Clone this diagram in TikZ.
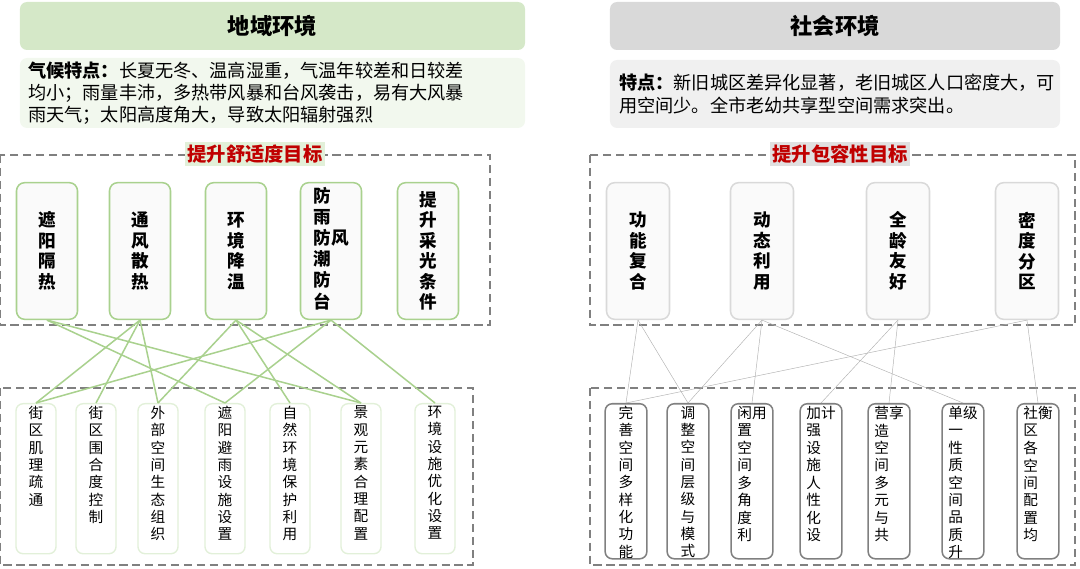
\documentclass[tikz,border=0pt]{standalone}
\usepackage{fontspec}
\setmainfont{Noto Sans CJK SC}
\definecolor{gline}{HTML}{A9D18E}
\definecolor{gpale}{HTML}{E2F0D9}
\definecolor{ghead}{HTML}{D5E8C8}
\definecolor{grayhead}{HTML}{D9D9D9}
\definecolor{dash}{HTML}{808080}
\definecolor{redt}{HTML}{C00000}
\tikzset{
  dashbox/.style={draw=dash,line width=2pt,dash pattern=on 7pt off 4pt},
  topL/.style={draw=gline,line width=1.3pt,fill=black!2,rounded corners=7pt,minimum width=1.83cm,minimum height=4.1cm,inner sep=0pt,font=\fontsize{15}{17.5}\selectfont\bfseries},
  topR/.style={draw=grayhead,line width=1.3pt,fill=black!2,rounded corners=7pt,minimum width=1.89cm,minimum height=4.1cm,inner sep=0pt,font=\fontsize{15}{17.5}\selectfont\bfseries},
  botL/.style={draw=gpale,line width=1.2pt,rounded corners=6pt,minimum width=1.2cm,inner sep=0pt,anchor=north,font=\fontsize{12.5}{14.8}\selectfont},
  botR/.style={draw=dash,line width=1.3pt,rounded corners=6pt,minimum width=1.2cm,inner sep=0pt,anchor=north,font=\fontsize{12.5}{14.8}\selectfont},
  gl/.style={draw=gline,line width=1.3pt},
  rl/.style={draw=black!30,line width=0.4pt},
}
\newcommand\colL[1]{\parbox[c][4.5cm][t]{1.1cm}{\centering\vspace{2pt}#1}}
\newcommand\colR[1]{\parbox[c][4.65cm][t]{1.25cm}{\centering\vspace{2pt}#1}}
\begin{document}
\begin{tikzpicture}[x=0.03cm,y=-0.03cm]
\useasboundingbox (0,0) rectangle (1080,569);
% headers
\node[fill=ghead,rounded corners=6pt,minimum width=15.15cm,minimum height=1.44cm,font=\fontsize{19}{22}\selectfont\bfseries] (hL) at (272.5,26) {地域环境};
\node[fill=grayhead,rounded corners=6pt,minimum width=13.5cm,minimum height=1.44cm,font=\fontsize{19}{22}\selectfont\bfseries] (hR) at (835,26) {社会环境};
% description boxes
\node[fill=gpale!45,rounded corners=6pt,minimum width=15.15cm,minimum height=2.1cm] (dL) at (272.5,93) {};
\node[anchor=west,align=left,font=\fontsize{15.5}{19}\selectfont,inner sep=0pt] (dLt) at (28,93) {\textbf{气候特点：}长夏无冬、温高湿重，气温年较差和日较差\\均小；雨量丰沛，多热带风暴和台风袭击，易有大风暴\\雨天气；太阳高度角大，导致太阳辐射强烈};
\node[fill=black!6,rounded corners=6pt,minimum width=13.5cm,minimum height=2.04cm] (dR) at (835,94) {};
\node[anchor=west,align=left,font=\fontsize{15.5}{20}\selectfont,inner sep=0pt] (dRt) at (619,94) {\textbf{特点：}新旧城区差异化显著，老旧城区人口密度大，可\\用空间少。全市老幼共享型空间需求突出。};
% dashed frames
\draw[dashbox] (0,155) rectangle (490,325);
\draw[dashbox] (590,155) rectangle (1075,325);
\draw[dashbox] (0,388) rectangle (473,565);
\draw[dashbox] (590,388) rectangle (1075,565);
\node[fill=gpale,inner sep=2pt,font=\fontsize{16.5}{19}\selectfont\bfseries,text=redt] (lL) at (255,154) {提升舒适度目标};
\node[fill=black!12,inner sep=2pt,font=\fontsize{16.5}{19}\selectfont\bfseries,text=redt] (lR) at (840,154) {提升包容性目标};
% top left boxes
\node[topL,align=center] (a1) at (47,251) {遮\\阳\\隔\\热};
\node[topL,align=center] (a2) at (140,251) {通\\风\\散\\热};
\node[topL,align=center] (a3) at (236,251) {环\\境\\降\\温};
\node[topL] (a4) at (331,251) {\begin{tabular}{@{}c@{}c@{}}防&\\雨&\\防&风\\潮&\\防&\\台&\end{tabular}};
\node[topL,align=center] (a5) at (428,251) {提\\升\\采\\光\\条\\件};
% bottom left boxes
\node[botL] (b1) at (36,403) {\colL{街\\区\\肌\\理\\疏\\通}};
\node[botL] (b2) at (96,403) {\colL{街\\区\\围\\合\\度\\控\\制}};
\node[botL] (b3) at (158,403) {\colL{外\\部\\空\\间\\生\\态\\组\\织}};
\node[botL] (b4) at (225,403) {\colL{遮\\阳\\避\\雨\\设\\施\\设\\置}};
\node[botL] (b5) at (290,403) {\colL{自\\然\\环\\境\\保\\护\\利\\用}};
\node[botL] (b6) at (361,403) {\colL{景\\观\\元\\素\\合\\理\\配\\置}};
\node[botL] (b7) at (435,403) {\colL{环\\境\\设\\施\\优\\化\\设\\置}};
% green links
\foreach \s/\t in {a1/b4,a1/b6,a2/b1,a2/b2,a2/b3,a3/b3,a3/b5,a3/b6,a4/b1,a4/b4,a4/b7}
  \draw[gl] (\s.south) -- (\t.north);
% top right boxes
\node[topR,align=center] (c1) at (638,251) {功\\能\\复\\合};
\node[topR,align=center] (c2) at (762,251) {动\\态\\利\\用};
\node[topR,align=center] (c3) at (898,251) {全\\龄\\友\\好};
\node[topR,align=center] (c4) at (1027,251) {密\\度\\分\\区};
% bottom right boxes
\node[botR] (d1) at (626,403) {\colR{完\\善\\空\\间\\多\\样\\化\\功\\能}};
\node[botR] (d2) at (688,403) {\colR{调\\整\\空\\间\\层\\级\\与\\模\\式}};
\node[botR] (d3) at (752,403) {\colR{\begin{tabular}[t]{@{}l@{}l@{}}闲&用\\置\\空\\间\\多\\角\\度\\利\end{tabular}}};
\node[botR] (d4) at (821,403) {\colR{\begin{tabular}[t]{@{}l@{}l@{}}加&计\\强\\设\\施\\人\\性\\化\\设\end{tabular}}};
\node[botR] (d5) at (889,403) {\colR{\begin{tabular}[t]{@{}l@{}l@{}}营&享\\造\\空\\间\\多\\元\\与\\共\end{tabular}}};
\node[botR] (d6) at (963,403) {\colR{\begin{tabular}[t]{@{}l@{}l@{}}单&级\\一\\性\\质\\空\\间\\品\\质\\升\end{tabular}}};
\node[botR] (d7) at (1038,403) {\colR{\begin{tabular}[t]{@{}l@{}l@{}}社&衡\\区\\各\\空\\间\\配\\置\\均\end{tabular}}};
% gray links
\foreach \s/\t in {c1/d1,c1/d2,c2/d2,c2/d3,c2/d6,c3/d4,c3/d5,c4/d1,c4/d7}
  \draw[rl] (\s.south) -- (\t.north);
\end{tikzpicture}
\end{document}
